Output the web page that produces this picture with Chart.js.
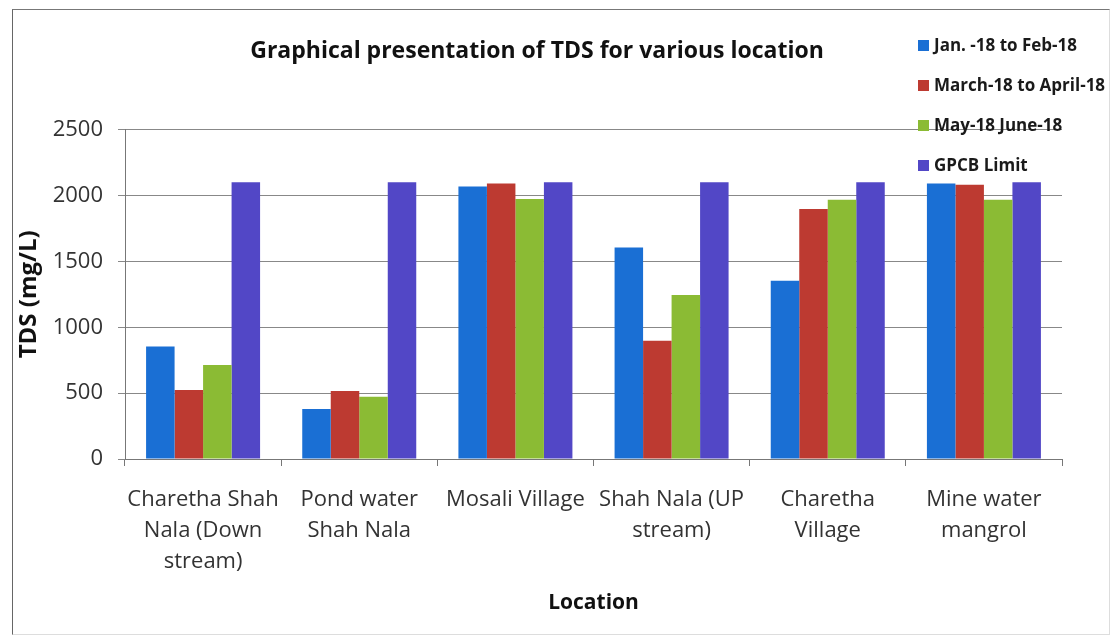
<!DOCTYPE html>
<html>
<head>
<meta charset="utf-8">
<script src="https://cdn.jsdelivr.net/npm/chart.js@4/dist/chart.umd.min.js"></script>
<style>
    body { margin: 0; background: #fff; }
    #wrap { position: relative; width: 1117px; height: 641px; }
    #frame { position: absolute; left: 12px; top: 9px; width: 1096px; height: 624px;
        border-left: 1px solid #666; border-top: 1px solid #777;
        border-right: 1px solid #ddd; border-bottom: 1px solid #ddd; pointer-events: none; }
    #legend { position: absolute; left: 918px; top: 33px; font-family: "Open Sans", sans-serif;
        font-weight: bold; font-size: 17px; color: #1a1a1a; }
    #legend div { height: 40px; line-height: 24px; white-space: nowrap; }
    #legend span { display: inline-block; width: 11px; height: 11px; margin-right: 5px; vertical-align: 0px; }
</style>
</head>
<body>
<div id="wrap">
    <canvas id="chart-area" width="1117" height="641"></canvas>
    <div id="frame"></div>
    <div id="legend"></div>
</div>
<script>
var locations = [
    ["Charetha Shah", "Nala (Down", "stream)"],
    ["Pond water", "Shah Nala"],
    ["Mosali Village"],
    ["Shah Nala (UP", "stream)"],
    ["Charetha", "Village"],
    ["Mine water", "mangrol"]
];
var seriesNames = ["Jan. -18 to Feb-18", "March-18 to April-18", "May-18 June-18", "GPCB Limit"];
var janFeb = [853, 380, 2069, 1606, 1353, 2090];
var marApr = [524, 517, 2090, 897, 1897, 2082];
var mayJun = [714, 473, 1973, 1244, 1968, 1968];
var gpcbLimit = [2100, 2100, 2100, 2100, 2100, 2100];
var colors = ["#1a6fd4", "#bd3a31", "#8bbb34", "#5247c6"];

var values = [janFeb, marApr, mayJun, gpcbLimit];
var datasets = [];
for (var i = 0; i < seriesNames.length; i++) {
    datasets.push({
        label: seriesNames[i],
        data: values[i],
        backgroundColor: colors[i],
        borderWidth: 0,
        categoryPercentage: 0.73,
        barPercentage: 1.0
    });
}

var config = {
    type: 'bar',
    data: { labels: locations, datasets: datasets },
    options: {
        responsive: false,
        animation: false,
        layout: { padding: { left: 12, right: 55, top: 0, bottom: 0 } },
        plugins: {
            legend: { display: false },
            tooltip: { enabled: false },
            title: {
                display: true,
                text: "Graphical presentation of TDS for various location",
                color: "#111",
                font: { family: "Open Sans", size: 23, weight: "bold", lineHeight: 1.2 },
                padding: { top: 38, bottom: 64 }
            }
        },
        scales: {
            x: {
                grid: { offset: true, drawOnChartArea: false, tickLength: 7, color: "#777" },
                border: { color: "#777" },
                ticks: { color: "#333", font: { family: "Open Sans", size: 22, lineHeight: 1.41 }, padding: 18, maxRotation: 0 },
                title: { display: true, text: "Location", color: "#111",
                    font: { family: "Open Sans", size: 21, weight: "bold", lineHeight: 1.2 },
                    padding: { top: 0, bottom: 25 } },
                afterFit: function (scale) { scale.height = 182; }
            },
            y: {
                min: 0, max: 2500,
                ticks: { stepSize: 500, color: "#333", font: { family: "Open Sans", size: 22 }, padding: 15,
                    callback: function (v) { return String(v); } },
                grid: { color: "#888", tickLength: 7 },
                border: { color: "#777" },
                title: { display: true, text: "TDS (mg/L)", color: "#111",
                    font: { family: "Open Sans", size: 24, weight: "bold", lineHeight: 1.2 },
                    padding: { top: 3, bottom: 0 } },
                afterFit: function (scale) { scale.width = 113; }
            }
        }
    }
};

function buildLegend() {
    var html = "";
    for (var i = 0; i < datasets.length; i++) {
        html += '<div><span style="background:' + datasets[i].backgroundColor + '"></span>' + datasets[i].label + '</div>';
    }
    document.getElementById("legend").innerHTML = html;
}

var ctx = document.getElementById("chart-area").getContext("2d");
window.myBar = new Chart(ctx, config);
buildLegend();
</script>
</body>
</html>
